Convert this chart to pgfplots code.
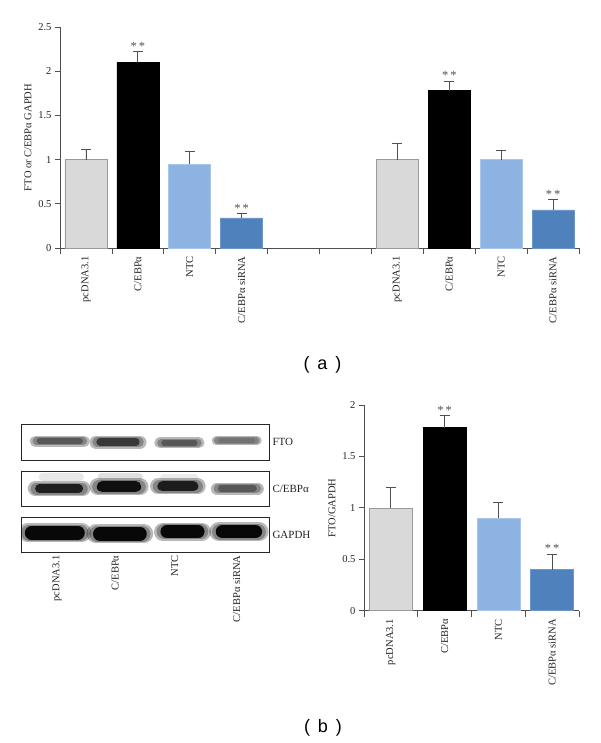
\documentclass[border=0pt]{standalone}
\usepackage{pgfplots}
\pgfplotsset{compat=1.18}
\usepackage{fontspec}
\setmainfont{Liberation Serif}
\newfontfamily\arialfont{Liberation Sans}
\definecolor{cgray}{HTML}{D9D9D9}
\definecolor{cgrayE}{HTML}{9A9A9A}
\definecolor{clblue}{HTML}{8DB3E2}
\definecolor{clblueE}{HTML}{A9C5EA}
\definecolor{cblue}{HTML}{4F81BD}
\definecolor{cblueE}{HTML}{6F96C9}
\definecolor{axgray}{HTML}{505050}
\definecolor{txt}{HTML}{222222}
\pgfplotsset{
  bars/.style={
    scale only axis, anchor=south west,
    axis x line*=bottom, axis y line*=left,
    axis line style={axgray, line width=0.8pt},
    tick align=outside,
    major tick length=5pt, minor tick length=6pt,
    major x tick style={draw=none},
    minor x tick style={axgray, line width=0.8pt},
    y tick style={axgray, line width=0.8pt},
    ymin=0, xmin=0.5,
    /pgf/number format/assume math mode=true,
    tick label style={font=\fontsize{10.5}{12}\selectfont, text=txt},
    xticklabel style={rotate=90, anchor=east, font=\fontsize{10.5}{12}\selectfont},
    ylabel style={font=\fontsize{10.5}{12}\selectfont, text=txt},
    clip=false,
  },
  bar/.style={ybar, bar width=42pt, bar shift=0pt, line width=0.7pt,
    error bars/y dir=plus, error bars/y explicit,
    error bars/error bar style={axgray, line width=0.8pt},
    error bars/error mark options={rotate=90, axgray, line width=0.8pt, mark size=5pt}},
  stars/.style={draw=none, mark=none, nodes near coords={*\hspace{2pt}*},
    every node near coord/.append style={font=\fontsize{12.5}{14}\selectfont, text=axgray, anchor=south, inner sep=1pt}},
  blot/.style={
    scale only axis, anchor=south west, width=248pt,
    xmin=0.5, xmax=4.5, ymin=0, ymax=1,
    axis line style={black!85, line width=1pt},
    xtick=\empty, ytick={0.5}, yticklabel pos=right,
    major tick length=0pt, ytick style={draw=none}, xtick style={draw=none},
    yticklabel style={font=\fontsize{11}{12}\selectfont, text=txt},
    clip=true,
  },
  halo/.style={line cap=round, line width=#1, black, opacity=0.28},
  core/.style={line cap=round, line width=#1},
}
\begin{document}
\begin{tikzpicture}
\useasboundingbox (0pt,0pt) rectangle (600pt,-743pt);
% ---------------- panel (a)
\begin{axis}[bars, at={(60pt,-248pt)}, width=519pt, height=221pt,
  xmax=10.5, ymax=2.5, ytick={0,0.5,...,2.5},
  xtick={1,2,3,4,7,8,9,10},
  xticklabels={pcDNA3.1,C/EBPα,NTC,C/EBPα siRNA,pcDNA3.1,C/EBPα,NTC,C/EBPα siRNA},
  minor xtick={0.5,1.5,...,10.5},
  ylabel={FTO or C/EBPα GAPDH}]
\addplot[bar, fill=cgray, draw=cgrayE] coordinates {(1,1.0) +- (0,0.12) (7,1.0) +- (0,0.18)};
\addplot[bar, fill=black, draw=black] coordinates {(2,2.10) +- (0,0.12) (8,1.78) +- (0,0.11)};
\addplot[bar, fill=clblue, draw=clblueE] coordinates {(3,0.95) +- (0,0.14) (9,1.0) +- (0,0.10)};
\addplot[bar, fill=cblue, draw=cblueE] coordinates {(4,0.34) +- (0,0.05) (10,0.43) +- (0,0.12)};
\addplot[stars] coordinates {(2,2.22) (4,0.39) (8,1.89) (10,0.55)};
\end{axis}
\node[font=\arialfont\fontsize{18}{20}\selectfont] at (322.5pt,-364.5pt) {(\hspace{8pt}a\hspace{8pt})};
% ---------------- panel (b) blot
\begin{axis}[blot, at={(21pt,-460pt)}, height=36pt, yticklabels={FTO}]
\addplot[halo=11pt] coordinates {(0.73,0.52) (1.52,0.52)};
\addplot[halo=8pt] coordinates {(0.75,0.52) (1.50,0.52)};
\addplot[core=6pt, black!66] coordinates {(0.80,0.52) (1.45,0.52)};
\addplot[halo=13pt] coordinates {(1.71,0.5) (2.42,0.5)};
\addplot[halo=10pt] coordinates {(1.73,0.5) (2.40,0.5)};
\addplot[core=8pt, black!78] coordinates {(1.78,0.5) (2.35,0.5)};
\addplot[halo=11pt] coordinates {(2.74,0.48) (3.37,0.48)};
\addplot[halo=8pt] coordinates {(2.76,0.48) (3.35,0.48)};
\addplot[core=6pt, black!66] coordinates {(2.81,0.48) (3.30,0.48)};
\addplot[halo=9pt] coordinates {(3.65,0.54) (4.31,0.54)};
\addplot[halo=7pt] coordinates {(3.67,0.54) (4.29,0.54)};
\addplot[core=4.5pt, black!55] coordinates {(3.72,0.54) (4.24,0.54)};
\end{axis}
\begin{axis}[blot, at={(21pt,-506pt)}, height=35pt, yticklabels={C/EBPα}]
\addplot[core=8pt, black!9] coordinates {(0.85,0.82) (1.45,0.82)};
\addplot[core=8pt, black!12] coordinates {(1.80,0.84) (2.40,0.84)};
\addplot[core=7pt, black!8] coordinates {(2.80,0.82) (3.30,0.82)};
\addplot[halo=15pt] coordinates {(0.73,0.50) (1.50,0.50)};
\addplot[halo=12pt] coordinates {(0.75,0.50) (1.48,0.50)};
\addplot[core=9pt, black!88] coordinates {(0.80,0.50) (1.43,0.50)};
\addplot[halo=17pt] coordinates {(1.74,0.55) (2.42,0.55)};
\addplot[halo=14pt] coordinates {(1.76,0.55) (2.40,0.55)};
\addplot[core=11pt, black!94] coordinates {(1.81,0.55) (2.35,0.55)};
\addplot[halo=16pt] coordinates {(2.71,0.56) (3.35,0.56)};
\addplot[halo=13pt] coordinates {(2.73,0.56) (3.33,0.56)};
\addplot[core=10pt, black!89] coordinates {(2.78,0.56) (3.28,0.56)};
\addplot[halo=12pt] coordinates {(3.66,0.50) (4.32,0.50)};
\addplot[halo=9pt] coordinates {(3.68,0.50) (4.30,0.50)};
\addplot[core=6.5pt, black!66] coordinates {(3.73,0.50) (4.25,0.50)};
\end{axis}
\begin{axis}[blot, at={(21pt,-552pt)}, height=35pt, yticklabels={GAPDH},
  xtick={1.08,2.02,2.98,3.98}, xtick style={draw=none},
  xticklabels={pcDNA3.1,C/EBPα,NTC,C/EBPα siRNA},
  xticklabel style={rotate=90, anchor=east, font=\fontsize{10.5}{12}\selectfont, text=txt}]
\addplot[halo=19pt] coordinates {(0.61,0.55) (1.48,0.55)};
\addplot[halo=16pt] coordinates {(0.63,0.55) (1.46,0.55)};
\addplot[core=13.5pt, black!97] coordinates {(0.67,0.55) (1.42,0.55)};
\addplot[halo=19pt] coordinates {(1.71,0.52) (2.48,0.52)};
\addplot[halo=16pt] coordinates {(1.73,0.52) (2.46,0.52)};
\addplot[core=13.5pt, black!97] coordinates {(1.77,0.52) (2.42,0.52)};
\addplot[halo=18pt] coordinates {(2.79,0.58) (3.42,0.58)};
\addplot[halo=15pt] coordinates {(2.81,0.58) (3.40,0.58)};
\addplot[core=12.5pt, black!97] coordinates {(2.85,0.58) (3.36,0.58)};
\addplot[halo=19pt] coordinates {(3.69,0.58) (4.34,0.58)};
\addplot[halo=16pt] coordinates {(3.71,0.58) (4.32,0.58)};
\addplot[core=13.5pt, black!97] coordinates {(3.75,0.58) (4.28,0.58)};
\end{axis}
% ---------------- panel (b) bars
\begin{axis}[bars, at={(364pt,-610.7pt)}, width=215pt, height=205.7pt,
  xmax=4.5, ymax=2, ytick={0,0.5,...,2},
  xtick={1,2,3,4},
  xticklabels={pcDNA3.1,C/EBPα,NTC,C/EBPα siRNA},
  minor xtick={0.5,1.5,...,4.5},
  ylabel={FTO/GAPDH}]
\addplot[bar, bar width=43pt, fill=cgray, draw=cgrayE] coordinates {(1,1.0) +- (0,0.20)};
\addplot[bar, bar width=43pt, fill=black, draw=black] coordinates {(2,1.78) +- (0,0.12)};
\addplot[bar, bar width=43pt, fill=clblue, draw=clblueE] coordinates {(3,0.90) +- (0,0.15)};
\addplot[bar, bar width=43pt, fill=cblue, draw=cblueE] coordinates {(4,0.40) +- (0,0.15)};
\addplot[stars] coordinates {(2,1.90) (4,0.55)};
\end{axis}
\node[font=\arialfont\fontsize{18}{20}\selectfont] at (323pt,-728pt) {(\hspace{8pt}b\hspace{8pt})};
\end{tikzpicture}
\end{document}
